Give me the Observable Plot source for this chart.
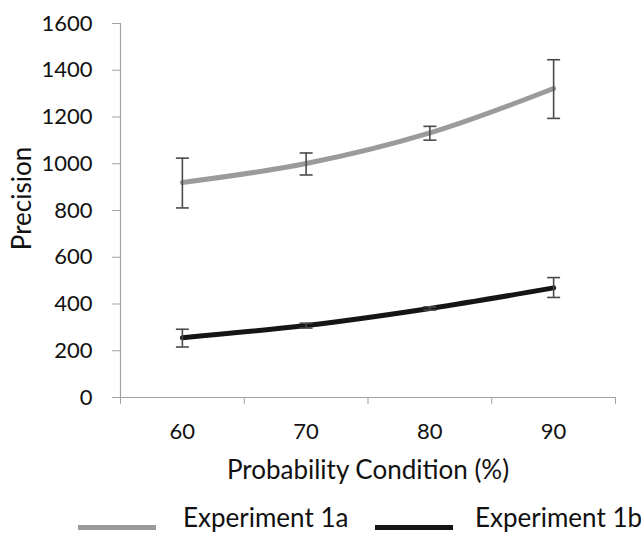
<!DOCTYPE html>
<html>
<head>
<meta charset="utf-8">
<script src="https://cdn.jsdelivr.net/npm/d3@7"></script>
<script src="https://cdn.jsdelivr.net/npm/@observablehq/plot@0.6"></script>
<style>
  html, body { margin: 0; padding: 0; background: #fff; overflow: hidden; }
  #wrap { position: relative; width: 641px; height: 535px; font-family: Lato, "Open Sans", sans-serif; color: #111; }
  #chart svg { display: block; }
  .sw { position: absolute; height: 5px; }
  .lab { position: absolute; font-size: 26px; line-height: 26px; white-space: nowrap; }
</style>
</head>
<body>
<div id="wrap">
  <div id="chart"></div>
</div>
<script>
// ---- data ----
const categories = [60, 70, 80, 90];
const seriesNames = ["Experiment 1a", "Experiment 1b"];
const exp1a = [920, 1001, 1132, 1322];
const exp1aLow = [811, 952, 1101, 1194];
const exp1aHigh = [1024, 1046, 1160, 1445];
const exp1b = [256, 308, 381, 469];
const exp1bLow = [216, 297, 374, 428];
const exp1bHigh = [292, 318, 388, 513];
const yTicks = [0, 200, 400, 600, 800, 1000, 1200, 1400, 1600];
const xTitle = "Probability Condition (%)";
const yTitle = "Precision";
const seriesColors = ["#9b9b9b", "#151515"];

// ---- table ----
const rows = [];
categories.forEach((c, i) => {
  rows.push({cat: c, series: seriesNames[0], value: exp1a[i], low: exp1aLow[i], high: exp1aHigh[i]});
});
categories.forEach((c, i) => {
  rows.push({cat: c, series: seriesNames[1], value: exp1b[i], low: exp1bLow[i], high: exp1bHigh[i]});
});
const step = categories[1] - categories[0];
const xBounds = categories.map(c => c - step / 2).concat([categories[categories.length - 1] + step / 2]);

const capSymbol = {
  draw(ctx, size) {
    const r = Math.sqrt(size / Math.PI);
    ctx.moveTo(-r, 0);
    ctx.lineTo(r, 0);
  }
};

const axisGray = "#a3a3a3";
const errColor = "#4a4a4a";

const plot = Plot.plot({
  width: 641,
  height: 500,
  marginLeft: 120,
  marginRight: 26,
  marginTop: 23,
  marginBottom: 103,
  style: {fontFamily: "Lato, 'Open Sans', sans-serif", fontSize: "22px", color: "#111", background: "#fff"},
  x: {domain: [xBounds[0], xBounds[xBounds.length - 1]]},
  y: {domain: [yTicks[0], yTicks[yTicks.length - 1]]},
  color: {domain: seriesNames, range: seriesColors},
  marks: [
    Plot.ruleX([xBounds[0]], {stroke: axisGray, strokeWidth: 1.2}),
    Plot.ruleY([0], {stroke: axisGray, strokeWidth: 1.2}),
    Plot.axisY({ticks: yTicks, tickSize: 8, tickPadding: 20, stroke: axisGray, fill: "#111", label: null, tickFormat: d => String(d)}),
    Plot.axisX({ticks: xBounds, tickSize: 7, tickFormat: () => "", stroke: axisGray, label: null}),
    Plot.axisX({ticks: categories, tickSize: 0, tickPadding: 26, fill: "#111", label: null, tickFormat: d => String(d)}),
    Plot.text([yTitle], {frameAnchor: "left", textAnchor: "middle", lineAnchor: "middle", rotate: -90, dx: -98, dy: -12, fontSize: 26, fill: "#111", text: d => d}),
    Plot.text([xTitle], {frameAnchor: "bottom", textAnchor: "middle", lineAnchor: "middle", dy: 73, fontSize: 26, fill: "#111", text: d => d}),
    Plot.line(rows, {x: "cat", y: "value", z: "series", stroke: "series", strokeWidth: 5, curve: "catmull-rom"}),
    Plot.ruleX(rows, {x: "cat", y1: "low", y2: "high", stroke: errColor, strokeWidth: 1.6}),
    Plot.dot(rows, {x: "cat", y: "low", symbol: capSymbol, r: 6.5, stroke: errColor, strokeWidth: 1.6, fill: "none"}),
    Plot.dot(rows, {x: "cat", y: "high", symbol: capSymbol, r: 6.5, stroke: errColor, strokeWidth: 1.6, fill: "none"})
  ]
});
document.getElementById("chart").appendChild(plot);

// ---- legend ----
const wrap = document.getElementById("wrap");
const swLefts = [78, 375];
const labLefts = [183, 475];
seriesNames.forEach((name, i) => {
  const sw = document.createElement("div");
  sw.className = "sw";
  sw.style.left = swLefts[i] + "px";
  sw.style.top = "525px";
  sw.style.width = "78px";
  sw.style.background = seriesColors[i];
  const lab = document.createElement("div");
  lab.className = "lab";
  lab.style.left = labLefts[i] + "px";
  lab.style.top = "504px";
  lab.textContent = name;
  wrap.appendChild(sw);
  wrap.appendChild(lab);
});
</script>
</body>
</html>
